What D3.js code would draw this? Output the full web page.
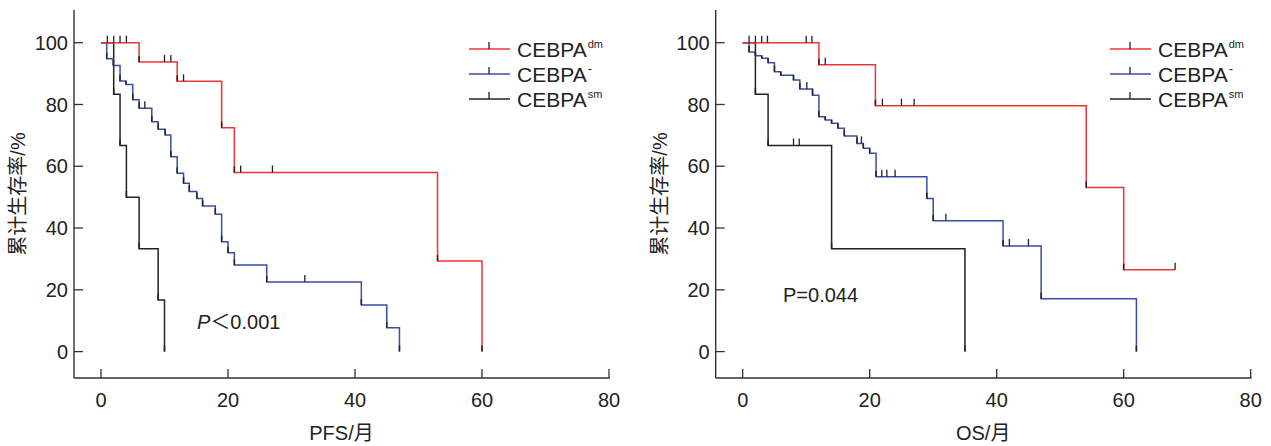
<!DOCTYPE html>
<html><head><meta charset="utf-8">
<script src="https://cdn.jsdelivr.net/npm/d3@7"></script>
<style>
body{margin:0;background:#fff}
svg{display:block}
text{font-family:"Liberation Sans",Arial,"Noto Sans CJK SC",sans-serif;fill:#222}
</style>
</head><body>
<svg id="c" width="1271" height="446"></svg>
<script>
// ---- data ----
const xTicks = [0, 20, 40, 60, 80];
const yTicks = [0, 20, 40, 60, 80, 100];
const groupBase = ["CEBPA", "CEBPA", "CEBPA"];
const groupSup = ["dm", "-", "sm"];
const yTitle = "累计生存率/%";
const pfsTitle = "PFS/月";
const osTitle = "OS/月";

// PFS curves: [month, survival %] step points
const pfsDm = [[0,100],[6,93.75],[12,87.5],[19,72.5],[21,58],[53,29.3],[60,0]];
const pfsDmCens = [1,2,3,4,10,11,13,22,27];
const pfsNeg = [[0,100],[0.9,94.8],[1.94,92.6],[3,87.6],[3.94,86.5],[5,81.5],[6,78.8],[8,74.4],[9,72],[10.1,70.1],[11,63.1],[12,57.7],[13,54.5],[13.9,51.8],[15.1,49.6],[16,47.1],[18,44.5],[19,35.6],[20,32],[21,28],[26.1,22.5],[41,15.1],[45,7.7],[47,0]];
const pfsNegCens = [6.9,32.1];
const pfsSm = [[0,100],[2,83.3],[3,66.7],[4,50],[6,33.3],[9,16.7],[10,0]];
const pfsSmCens = [];

// OS curves
const osDm = [[0,100],[12,92.9],[20.9,79.6],[54.1,53.1],[60,26.5],[68.1,26.5]];
const osDmCens = [1,2,3,3.9,10,10.9,13,22,25,27,68.1];
const osNeg = [[0,100],[1,97],[2,95.8],[3,95],[4,93.5],[5,90.6],[6,89.5],[8,87.9],[9,85],[11,83],[12,76],[13,75],[14,73.9],[15,72.3],[16,69.8],[18,67.4],[19,65.8],[20,64.2],[21,56.6],[29,49.6],[30,42.4],[41,34.2],[47,17.1],[62,0]];
const osNegCens = [10.1,18.7,21.9,22.7,24,32,42,45];
const osSm = [[0,100],[2,83.3],[4,66.7],[14,33.3],[35,0]];
const osSmCens = [8,8.9];

const pfsP = ["P", "＜0.001"];
const osP = ["P=0.044"];

// ---- drawing ----
const colors = ["#ee3535", "#3a4da8", "#222222"];
const svg = d3.select("#c");

function panel(cfg) {
  const g = svg.append("g");
  const x = d3.scaleLinear().domain([0, 80]).range([cfg.x0, cfg.x0 + 508]);
  const y = d3.scaleLinear().domain([0, 100]).range([351.6, 42.7]);
  const axL = cfg.x0 - 27, axB = 378, axT = 10;
  g.append("line").attr("x1", axL).attr("x2", axL).attr("y1", axT).attr("y2", axB)
    .attr("stroke", "#333").attr("stroke-width", 1.4);
  g.append("line").attr("x1", axL).attr("x2", x(80) + 0.7).attr("y1", axB).attr("y2", axB)
    .attr("stroke", "#333").attr("stroke-width", 1.4);
  yTicks.forEach(v => {
    g.append("line").attr("x1", axL).attr("x2", axL + 9).attr("y1", y(v)).attr("y2", y(v))
      .attr("stroke", "#333").attr("stroke-width", 1.3);
    g.append("text").attr("x", axL - 6).attr("y", y(v)).attr("dy", "0.36em")
      .attr("text-anchor", "end").attr("font-size", 20).text(v);
  });
  xTicks.forEach(t => {
    g.append("line").attr("x1", x(t)).attr("x2", x(t)).attr("y1", axB).attr("y2", axB - 9)
      .attr("stroke", "#333").attr("stroke-width", 1.3);
    g.append("text").attr("x", x(t)).attr("y", 407)
      .attr("text-anchor", "middle").attr("font-size", 20).text(t);
  });
  g.append("text").attr("x", (axL + x(80)) / 2).attr("y", 440)
    .attr("text-anchor", "middle").attr("font-size", 20).text(cfg.xTitle);
  g.append("text").attr("transform", `translate(${axL - 56},${(axT + axB) / 2}) rotate(-90)`)
    .attr("text-anchor", "middle").attr("dy", "0.36em").attr("font-size", 20).text(yTitle);

  const order = [2, 1, 0];
  order.forEach(i => {
    const pts = cfg.curves[i];
    let d = `M${x(pts[0][0])},${y(pts[0][1])}`;
    for (let k = 1; k < pts.length; k++) d += `H${x(pts[k][0])}V${y(pts[k][1])}`;
    g.append("path").attr("d", d).attr("fill", "none").attr("stroke", colors[i]).attr("stroke-width", 1.5);
  });
  order.forEach(i => {
    const pts = cfg.curves[i];
    for (let k = 1; k < pts.length; k++) {
      if (pts[k][1] < pts[k - 1][1]) {
        const top = Math.max(y(pts[k][1]) - 6, y(pts[k - 1][1]));
        g.append("line").attr("x1", x(pts[k][0])).attr("x2", x(pts[k][0]))
          .attr("y1", y(pts[k][1])).attr("y2", top).attr("stroke", "#222").attr("stroke-width", 1.5);
      }
    }
    cfg.cens[i].forEach(t => {
      let v = pts[0][1];
      pts.forEach(p => { if (p[0] <= t) v = p[1]; });
      g.append("line").attr("x1", x(t)).attr("x2", x(t)).attr("y1", y(v)).attr("y2", y(v) - 7)
        .attr("stroke", "#222").attr("stroke-width", 1.3);
    });
  });

  const lx = cfg.legX;
  [0, 1, 2].forEach(i => {
    const ly = 49 + i * 25;
    g.append("line").attr("x1", lx).attr("x2", lx + 41).attr("y1", ly).attr("y2", ly)
      .attr("stroke", colors[i]).attr("stroke-width", 1.5);
    g.append("line").attr("x1", lx + 20).attr("x2", lx + 20).attr("y1", ly).attr("y2", ly - 7)
      .attr("stroke", "#222").attr("stroke-width", 1.3);
    const t = g.append("text").attr("x", lx + 48).attr("y", ly + 7.5).attr("font-size", 21);
    t.append("tspan").text(groupBase[i]);
    t.append("tspan").attr("dy", -9).attr("dx", 1).attr("font-size", groupSup[i] === "-" ? 13 : 11).text(groupSup[i]);
  });

  const pt = g.append("text").attr("x", cfg.pX).attr("y", cfg.pY).attr("font-size", 20);
  if (cfg.p.length === 2) {
    pt.append("tspan").attr("font-style", "italic").text(cfg.p[0]);
    pt.append("tspan").text(cfg.p[1]);
  } else {
    pt.text(cfg.p[0]);
  }
}

panel({x0: 101, xTitle: pfsTitle, curves: [pfsDm, pfsNeg, pfsSm], cens: [pfsDmCens, pfsNegCens, pfsSmCens],
  legX: 469, p: pfsP, pX: 197, pY: 329});
panel({x0: 742.7, xTitle: osTitle, curves: [osDm, osNeg, osSm], cens: [osDmCens, osNegCens, osSmCens],
  legX: 1110, p: osP, pX: 783, pY: 302});
</script>
</body></html>
